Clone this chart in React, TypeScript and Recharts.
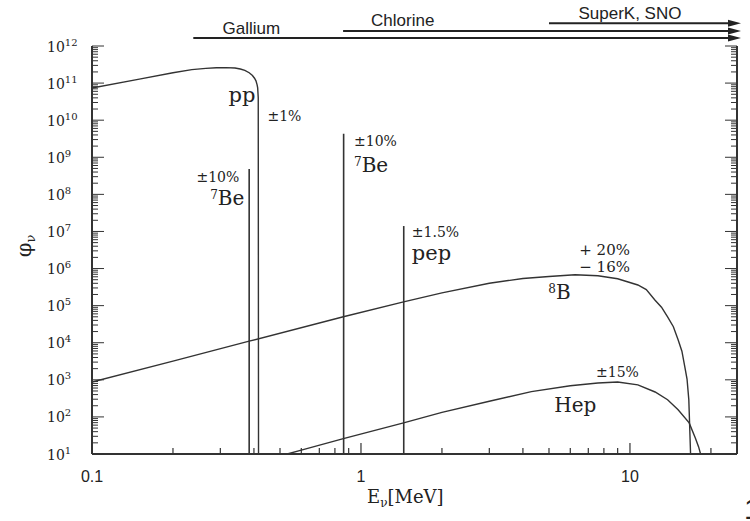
import React from 'react';
import { LineChart, Line, XAxis, YAxis, ReferenceLine, ReferenceDot } from 'recharts';

// pp continuum (E in MeV, flux)
const ppEnergy = [0.1, 0.15, 0.2, 0.235, 0.265, 0.29, 0.315, 0.34, 0.356, 0.37, 0.384, 0.395, 0.402, 0.407, 0.411, 0.413, 0.415, 0.416];
const ppFlux = [7.4e10, 1.28e11, 1.9e11, 2.3e11, 2.5e11, 2.6e11, 2.62e11, 2.55e11, 2.4e11, 2.2e11, 1.9e11, 1.6e11, 1.35e11, 1.15e11, 9e10, 7.4e10, 4e10, 10];

// 8B continuum
const b8Energy = [0.1, 0.2, 0.384, 0.86, 1.44, 2, 3, 4, 5, 6.25, 7.6, 9, 10.7, 11.5, 12.4, 13.1, 13.8, 14.5, 15.1, 15.6, 16, 16.3, 16.55, 16.8];
const b8Flux = [870, 3.2e3, 1.1e4, 5e4, 1.26e5, 2.2e5, 4.0e5, 5.4e5, 6.1e5, 6.8e5, 6.4e5, 5.3e5, 3.6e5, 2.7e5, 1.4e5, 9.1e4, 5e4, 2.7e4, 1.2e4, 5.9e3, 2.2e3, 1.05e3, 290, 10];

// hep continuum
const hepEnergy = [0.532, 0.6, 0.86, 1.44, 2, 3, 4.3, 6, 7.6, 9, 10.7, 12.4, 13.8, 15.1, 16.6, 17.5, 18, 18.3];
const hepFlux = [10, 12.7, 26, 69, 132, 265, 480, 690, 820, 870, 730, 470, 290, 155, 69, 27, 15.5, 10];

// line sources: energy and flux
const lineNames = ['7Be low', '7Be high', 'pep'];
const lineEnergy = [0.384, 0.862, 1.442];
const lineFlux = [4.8e8, 4.3e9, 1.4e7];

// detector thresholds (MeV)
const detectors = ['Gallium', 'Chlorine', 'SuperK, SNO'];
const detectorThreshold = [0.238, 0.858, 5.0];

const xMajor = [0.1, 1, 10];
const xMajorLabels = ['0.1', '1', '10'];
const xMinor = [0.2, 0.3, 0.4, 0.5, 0.6, 0.7, 0.8, 0.9, 2, 3, 4, 5, 6, 7, 8, 9, 20];
const yExponents = [1, 2, 3, 4, 5, 6, 7, 8, 9, 10, 11, 12];
const yMantissas = [2, 3, 4, 5, 6, 7, 8, 9];

const X_MIN = 0.1;
const X_MAX = 25;
const Y_MIN = 10;
const Y_MAX = 1e12;
const INK = '#333';
const SERIF = '"DejaVu Serif", serif';
const SANS = '"Liberation Sans", Arial, sans-serif';

const rows = (es: number[], fs: number[]) => es.map((e, i) => ({ e, f: fs[i] }));
const ppData = rows(ppEnergy, ppFlux);
const b8Data = rows(b8Energy, b8Flux);
const hepData = rows(hepEnergy, hepFlux);
const lineData = lineEnergy.map((e, i) => [{ e, f: Y_MIN }, { e, f: lineFlux[i] }]);

const xTicks = [...xMajor, ...xMinor].sort((a, b) => a - b);
const yTicks = yExponents.flatMap((k) =>
  k < 12 ? [Math.pow(10, k), ...yMantissas.map((m) => m * Math.pow(10, k))] : [Math.pow(10, k)]
);

const majorXIndex = (v: number) => xMajor.findIndex((m) => Math.abs(m - v) < 1e-9);
const isMajorY = (v: number) => {
  const l = Math.log10(v);
  return Math.abs(l - Math.round(l)) < 1e-6;
};

// text annotations, placed at data coordinates
const notes = [
  { text: 'pp', e: 0.405, f: 3.1e10, anchor: 'end', size: 21 },
  { text: '±1%', e: 0.449, f: 9.5e9, anchor: 'start', size: 14 },
  { text: '±10%', e: 0.353, f: 2.16e8, anchor: 'end', size: 14 },
  { sup: '7', text: 'Be', e: 0.3686, f: 5.2e7, anchor: 'end', size: 20 },
  { text: '±10%', e: 0.942, f: 2.0e9, anchor: 'start', size: 14 },
  { sup: '7', text: 'Be', e: 0.942, f: 4.0e8, anchor: 'start', size: 20 },
  { text: '±1.5%', e: 1.545, f: 7.1e6, anchor: 'start', size: 14 },
  { text: 'pep', e: 1.545, f: 1.7e6, anchor: 'start', size: 21 },
  { text: '+ 20%', e: 10, f: 2.33e6, anchor: 'end', size: 15 },
  { text: '− 16%', e: 10, f: 8.1e5, anchor: 'end', size: 15 },
  { sup: '8', text: 'B', e: 4.97, f: 1.52e5, anchor: 'start', size: 20 },
  { text: '±15%', e: 7.48, f: 1200, anchor: 'start', size: 14 },
  { text: 'Hep', e: 5.23, f: 136, anchor: 'start', size: 20 },
];

const detectorLabelE = [0.391, 1.43, 10];
const detectorLabelF = [2.1e12, 3.46e12, 5.35e12];
const detectorLineF = [1.64e12, 2.54e12, 4.1e12];

const bottomTick = ({ x, y, payload }: any) => {
  const i = majorXIndex(payload.value);
  return (
    <g>
      <line x1={x} x2={x} y1={y} y2={y - (i >= 0 ? 11 : 6)} stroke={INK} strokeWidth={1.2} />
      {i >= 0 && (
        <text x={x} y={y + 28} textAnchor="middle" fontFamily={SANS} fontSize={16} fill="#222">
          {xMajorLabels[i]}
        </text>
      )}
    </g>
  );
};

const topTick = ({ x, y, payload }: any) => {
  const i = majorXIndex(payload.value);
  return <line x1={x} x2={x} y1={y} y2={y + (i >= 0 ? 11 : 6)} stroke={INK} strokeWidth={1.2} />;
};

const leftTick = ({ x, y, payload }: any) => {
  const v = payload.value;
  const major = isMajorY(v);
  return (
    <g>
      <line x1={x} x2={x + (major ? 12 : 6)} y1={y} y2={y} stroke={INK} strokeWidth={1} />
      {major && (
        <text x={x - 45} y={y + 5.5} fontFamily={SERIF} fontSize={14} fill="#222">
          10
          <tspan dy={-6} fontSize={10}>
            {Math.round(Math.log10(v))}
          </tspan>
        </text>
      )}
    </g>
  );
};

const rightTick = ({ x, y, payload }: any) => {
  const major = isMajorY(payload.value);
  return <line x1={x} x2={x - (major ? 12 : 6)} y1={y} y2={y} stroke={INK} strokeWidth={1} />;
};

const XTitle = ({ viewBox }: any) => (
  <g>
    <text x={viewBox.x + 275} y={viewBox.y + 49} fontFamily={SERIF} fontSize={18} fill="#222">
      E
      <tspan fontSize={12} dy={4}>
        ν
      </tspan>
      <tspan dy={-4}>[MeV]</tspan>
    </text>
    <text x={viewBox.x + viewBox.width + 7} y={viewBox.y + 65} fontFamily={SANS} fontSize={30} fill="#222">
      1
    </text>
  </g>
);

const YTitle = ({ viewBox }: any) => (
  <text
    transform={`translate(${viewBox.x + 31}, ${viewBox.y + 200}) rotate(-90)`}
    textAnchor="middle"
    fontFamily={SERIF}
    fontSize={21}
    fill="#222"
  >
    φ
    <tspan fontSize={13} dy={4}>
      ν
    </tspan>
  </text>
);

const Arrow = (p: any) => (
  <g>
    <line x1={p.x1} y1={p.y1} x2={p.x2 - 6} y2={p.y2} stroke="#222" strokeWidth={2} />
    <polygon points={`${p.x2 + 4},${p.y2} ${p.x2 - 9},${p.y2 - 3.5} ${p.x2 - 9},${p.y2 + 3.5}`} fill="#222" />
  </g>
);

const noteShape = (n: any) => (p: any) => (
  <text x={p.cx} y={p.cy} textAnchor={n.anchor} fontFamily={SERIF} fontSize={n.size} fill="#222">
    {n.sup && (
      <tspan fontSize={12} dy={-6}>
        {n.sup}
      </tspan>
    )}
    <tspan dy={n.sup ? 6 : 0}>{n.text}</tspan>
  </text>
);

const labelShape = (text: string) => (p: any) => (
  <text x={p.cx} y={p.cy} textAnchor="middle" fontFamily={SANS} fontSize={17} fill="#222">
    {text}
  </text>
);

export default function App() {
  return (
    <div style={{ position: 'absolute', left: 0, top: 0, width: 750, height: 521, background: '#fff' }}>
      <LineChart width={750} height={521} margin={{ top: 46, right: 12, bottom: 0, left: 0 }}>
        <XAxis
          dataKey="e"
          type="number"
          scale="log"
          domain={[X_MIN, X_MAX]}
          allowDataOverflow
          ticks={xTicks}
          interval={0}
          tickSize={0}
          tickMargin={0}
          tick={bottomTick}
          axisLine={{ stroke: INK, strokeWidth: 2 }}
          height={67}
          label={<XTitle />}
        />
        <XAxis
          xAxisId="top"
          orientation="top"
          dataKey="e"
          type="number"
          scale="log"
          domain={[X_MIN, X_MAX]}
          allowDataOverflow
          ticks={xTicks}
          interval={0}
          tickSize={0}
          tickMargin={0}
          tick={topTick}
          axisLine={{ stroke: INK, strokeWidth: 2 }}
          height={0}
        />
        <YAxis
          type="number"
          scale="log"
          domain={[Y_MIN, Y_MAX]}
          allowDataOverflow
          ticks={yTicks}
          interval={0}
          tickSize={0}
          tickMargin={0}
          tick={leftTick}
          axisLine={{ stroke: INK, strokeWidth: 2 }}
          width={92}
          label={<YTitle />}
        />
        <YAxis
          yAxisId="right"
          orientation="right"
          type="number"
          scale="log"
          domain={[Y_MIN, Y_MAX]}
          allowDataOverflow
          ticks={yTicks}
          interval={0}
          tickSize={0}
          tickMargin={0}
          tick={rightTick}
          axisLine={{ stroke: INK, strokeWidth: 2 }}
          width={1}
        />

        <Line data={ppData} dataKey="f" type="linear" stroke={INK} strokeWidth={1.4} dot={false} isAnimationActive={false} />
        <Line data={b8Data} dataKey="f" type="linear" stroke={INK} strokeWidth={1.4} dot={false} isAnimationActive={false} />
        <Line data={hepData} dataKey="f" type="linear" stroke={INK} strokeWidth={1.4} dot={false} isAnimationActive={false} />
        {lineData.map((d, i) => (
          <Line
            key={lineNames[i]}
            data={d}
            dataKey="f"
            type="linear"
            stroke={INK}
            strokeWidth={1.6}
            dot={false}
            isAnimationActive={false}
          />
        ))}

        {detectors.map((name, i) => (
          <ReferenceLine
            key={name}
            segment={[
              { x: detectorThreshold[i], y: detectorLineF[i] },
              { x: X_MAX, y: detectorLineF[i] },
            ]}
            ifOverflow="visible"
            shape={Arrow}
          />
        ))}
        {detectors.map((name, i) => (
          <ReferenceDot
            key={'lbl' + name}
            x={detectorLabelE[i]}
            y={detectorLabelF[i]}
            r={0}
            ifOverflow="visible"
            shape={labelShape(name)}
          />
        ))}
        {notes.map((n, i) => (
          <ReferenceDot key={'note' + i} x={n.e} y={n.f} r={0} ifOverflow="visible" shape={noteShape(n)} />
        ))}
      </LineChart>
    </div>
  );
}
